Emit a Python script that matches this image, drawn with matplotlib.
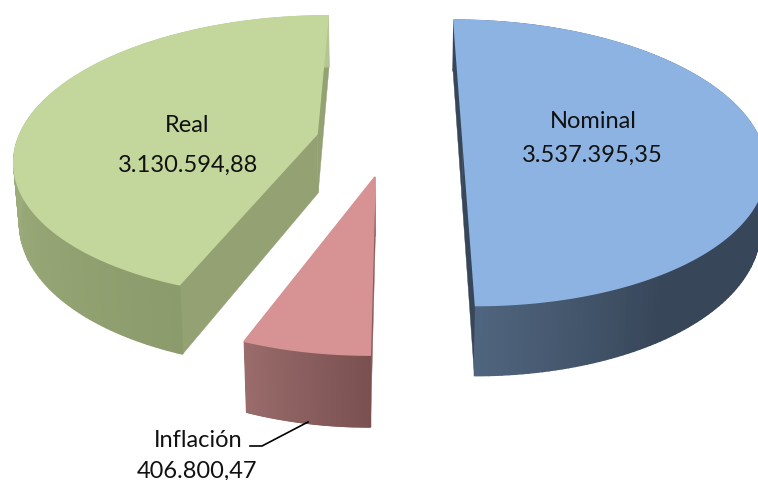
import numpy as np
import matplotlib
matplotlib.use('Agg')
import matplotlib.pyplot as plt
from matplotlib.colors import to_rgb
from matplotlib.patches import Polygon

labels = ['Nominal', 'Inflación', 'Real']
values = [3537395.35, 406800.47, 3130594.88]

# look of each slice: top face, flat cut walls, curved wall start/end
top_colors = ['#8DB3E2', '#D79393', '#C3D69B']
cut_colors = ['#374658', '#8A5C5C', '#93A173']
wall_start = ['#50657F', '#7A5050', '#8C9B6B']
wall_end = ['#374658', '#9A6C6C', '#B5C694']
# slice centre after explosion (x, y), vertical radius, perspective k
centers = [(463, 141), (375, 178), (317, 135)]
radius_y = [139, 146, 137]
persp = [0.16, 0.18, 0.16]
radius_x = 297
vanish_x = 397
depth = 59
text_pos = [[(593, 121), (592, 155)], [(198, 441), (197, 471)], [(187, 126), (188, 165)]]


def fmt_es(v):
    return f'{v:,.2f}'.replace(',', '#').replace('.', ',').replace('#', '.')


def project(t, r, c, ry, k, low=False):
    # t is clockwise from 12 o'clock, r is 0 at the slice tip and 1 on the rim
    u, v = r * np.sin(t), r * np.cos(t)
    s = 1 / (1 + k * v)
    x = vanish_x + (c[0] - vanish_x + radius_x * u) * s
    y = c[1] - ry * v * s
    if low:
        x = vanish_x + (x - vanish_x) * 0.985
        y = y + depth * s
    return x, y


fig = plt.figure(figsize=(7.58, 4.81), dpi=100)
ax = fig.add_axes([0, 0, 1, 1])
ax.set_xlim(0, 758)
ax.set_ylim(481, 0)
ax.axis('off')

fractions = np.array(values) / np.sum(values)
edges = np.concatenate([[0], np.cumsum(fractions)]) * 2 * np.pi

for i in range(len(values)):
    c, ry, k = centers[i], radius_y[i], persp[i]
    t = np.linspace(edges[i], edges[i + 1], 160)
    tx, ty = project(t, 1, c, ry, k)
    bx, by = project(t, 1, c, ry, k, low=True)
    tip_top = project(0, 0, c, ry, k)
    tip_low = project(0, 0, c, ry, k, low=True)

    # flat cut walls
    for j in [0, -1]:
        quad = [tip_top, (tx[j], ty[j]), (bx[j], by[j]), tip_low]
        ax.add_patch(Polygon(quad, fc=cut_colors[i], ec=cut_colors[i], lw=0.3, zorder=2))

    # curved wall as thin strips so the shade runs along the rim
    c0, c1 = np.array(to_rgb(wall_start[i])), np.array(to_rgb(wall_end[i]))
    if i == 0:
        # Nominal is only lighter close to its lower end
        w = np.clip(1 - (np.pi - t) / 0.6, 0, 1)
        shades = [c1 + (c0 - c1) * a for a in w]
    else:
        w = np.linspace(0, 1, len(t))
        shades = [c0 + (c1 - c0) * a for a in w]
    for j in range(len(t) - 1):
        quad = [(tx[j], ty[j]), (tx[j + 1], ty[j + 1]), (bx[j + 1], by[j + 1]), (bx[j], by[j])]
        ax.add_patch(Polygon(quad, fc=shades[j], ec=shades[j], lw=1.0, zorder=3))

    # face edge is wide enough to hide the strip edges along the back of the rim
    face = [tip_top] + list(zip(tx, ty))
    ax.add_patch(Polygon(face, fc=top_colors[i], ec=top_colors[i], lw=1.2, zorder=4))

for i in range(len(values)):
    ax.text(*text_pos[i][0], labels[i], ha='center', va='center', family='Lato',
            fontsize=17, color='#111111', zorder=6)
    ax.text(*text_pos[i][1], fmt_es(values[i]), ha='center', va='center', family='Lato',
            fontsize=17, color='#111111', zorder=6)

# leader line for the small slice
ax.plot([250, 262, 308], [447, 447, 423], color='black', lw=1.2, zorder=5)

fig.savefig('out.png', dpi=100)
